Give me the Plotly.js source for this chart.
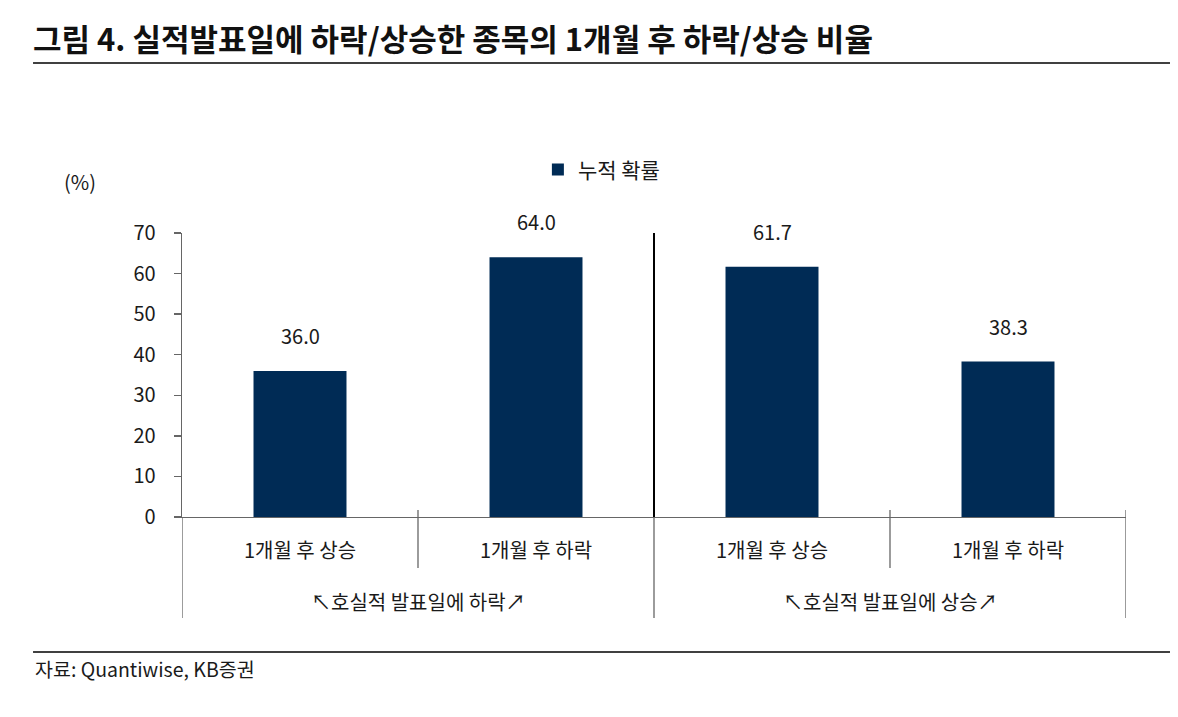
<!DOCTYPE html>
<html>
<head>
<meta charset="utf-8">
<script src="https://cdn.plot.ly/plotly-3.0.1.min.js"></script>
<style>
  html, body { margin: 0; padding: 0; background: #fff; }
  #chart { width: 1178px; height: 717px; }
</style>
</head>
<body>
<div id="chart"></div>
<script>
// Chart data
const categories = ["1개월 후 상승", "1개월 후 하락", "1개월 후 상승", "1개월 후 하락"];
const groups = ["↖호실적 발표일에 하락↗", "↖호실적 발표일에 상승↗"];
const values = [36.0, 64.0, 61.7, 38.3];
const yTicks = [0, 10, 20, 30, 40, 50, 60, 70];
const seriesName = "누적 확률";

const FONT = "'Noto Sans CJK KR', 'Noto Sans', sans-serif";
const NAVY = "#002b55";
const AXIS = "#666666";
const TEXT = "#1a1a1a";

// bar positions: one slot per category
const xPos = categories.map(function(c, i) { return i; });
const perGroup = categories.length / groups.length;

const barTrace = {
  type: "bar",
  x: xPos,
  y: values,
  name: seriesName,
  marker: { color: NAVY },
  hoverinfo: "skip"
};

// value labels above the bars
const valueLabels = values.map(function(v, i) {
  return {
    x: i, y: v, xref: "x", yref: "y",
    text: v.toFixed(1), showarrow: false,
    yanchor: "bottom", yshift: 19,
    font: { family: FONT, size: 20, color: TEXT }
  };
});

// group labels under the category labels
const groupLabels = groups.map(function(g, gi) {
  return {
    x: gi * perGroup + (perGroup - 1) / 2, y: -0.296,
    xref: "x", yref: "paper",
    text: g, showarrow: false, yanchor: "middle",
    font: { family: FONT, size: 20, color: TEXT }
  };
});

const otherNotes = [
  {
    x: -0.108, y: 1.183, xref: "paper", yref: "paper",
    text: "(%)", showarrow: false, xanchor: "center", yanchor: "middle",
    font: { family: FONT, size: 20, color: TEXT }
  },
  {
    x: -0.1578, y: -0.532, xref: "paper", yref: "paper",
    text: "자료: Quantiwise, KB증권", showarrow: false,
    xanchor: "left", yanchor: "middle",
    font: { family: FONT, size: 19.5, color: TEXT }
  }
];

// divider lines below the axis
const shapes = [];
for (let b = 0; b <= categories.length; b++) {
  const isGroupEdge = (b % perGroup === 0);
  shapes.push({
    type: "line", xref: "x", yref: "paper",
    x0: b - 0.5, x1: b - 0.5,
    y0: isGroupEdge ? (b === 0 ? 0 : 0.025) : 0.025,
    y1: isGroupEdge ? -0.356 : -0.18,
    line: { color: AXIS, width: 1.3 }
  });
}
// bold separator between the two groups inside the plot
shapes.push({
  type: "line", xref: "x", yref: "paper",
  x0: perGroup - 0.5, x1: perGroup - 0.5, y0: 0, y1: 1,
  line: { color: "#000", width: 2 }
});
// title underline and footer rule
shapes.push({
  type: "line", xref: "paper", yref: "paper",
  x0: -0.1578, x1: 1.0466, y0: 1.5986, y1: 1.5986,
  line: { color: "#000", width: 1.3 }
});
shapes.push({
  type: "line", xref: "paper", yref: "paper",
  x0: -0.1578, x1: 1.0466, y0: -0.4754, y1: -0.4754,
  line: { color: "#000", width: 1.3 }
});

const layout = {
  width: 1178,
  height: 717,
  margin: { l: 182, r: 52, t: 233, b: 200 },
  paper_bgcolor: "#fff",
  plot_bgcolor: "#fff",
  font: { family: FONT, size: 20, color: TEXT },
  title: {
    text: "<b>그림 4. 실적발표일에 하락/상승한 종목의 1개월 후 하락/상승 비율</b>",
    x: 0.028, xanchor: "left", xref: "container",
    y: 0.944, yanchor: "middle", yref: "container",
    font: { family: FONT, size: 31, color: "#111" }
  },
  bargap: 0.606,
  showlegend: true,
  legend: {
    orientation: "h",
    x: 0.377, xanchor: "left",
    y: 1.222, yanchor: "middle",
    itemwidth: 30,
    font: { family: FONT, size: 21, color: TEXT },
    bgcolor: "rgba(0,0,0,0)"
  },
  xaxis: {
    range: [-0.5, categories.length - 0.5],
    tickvals: xPos,
    ticktext: categories,
    ticks: "",
    ticklabelstandoff: 16,
    showline: true, linecolor: AXIS, linewidth: 1.3,
    showgrid: false, zeroline: false, fixedrange: true,
    tickfont: { family: FONT, size: 20, color: TEXT }
  },
  yaxis: {
    range: [0, 70],
    tickvals: yTicks,
    ticks: "outside", ticklen: 7, tickcolor: AXIS, tickwidth: 1.3,
    ticklabelstandoff: 14,
    showline: true, linecolor: AXIS, linewidth: 1.3,
    showgrid: false, zeroline: false, fixedrange: true,
    tickfont: { family: FONT, size: 20, color: TEXT }
  },
  annotations: valueLabels.concat(groupLabels, otherNotes),
  shapes: shapes
};

Plotly.newPlot("chart", [barTrace], layout, { displayModeBar: false, staticPlot: true });
</script>
</body>
</html>
